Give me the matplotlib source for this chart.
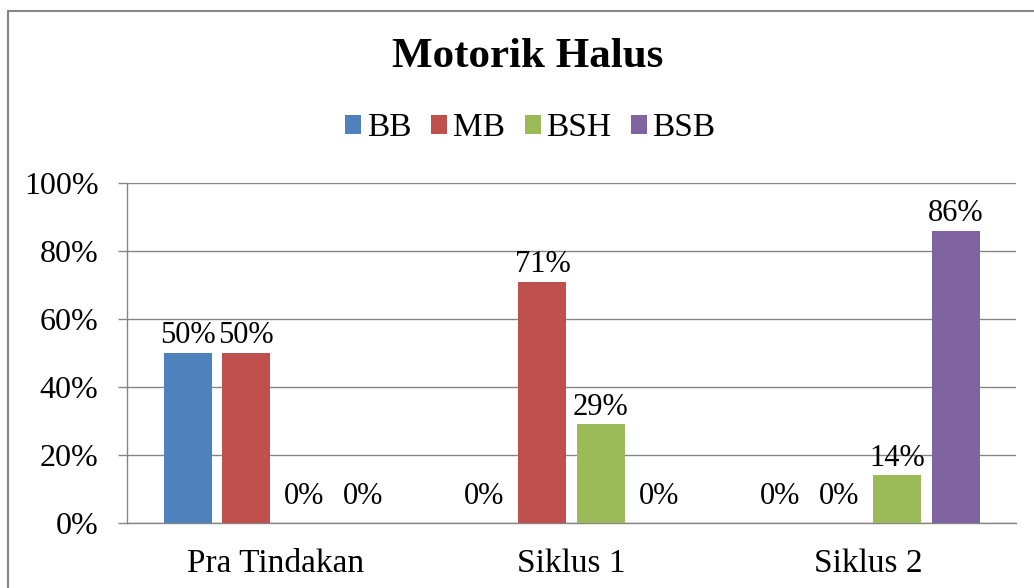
import numpy as np
import matplotlib
matplotlib.use('Agg')
import matplotlib.pyplot as plt
from matplotlib.patches import Patch, Rectangle

plt.rcParams['font.family'] = ['Liberation Serif', 'DejaVu Serif']

# Data
categories = ['Pra Tindakan', 'Siklus 1', 'Siklus 2']
series_names = ['BB', 'MB', 'BSH', 'BSB']
values = {
    'BB': [50, 0, 0],
    'MB': [50, 71, 0],
    'BSH': [0, 29, 14],
    'BSB': [0, 0, 86],
}
colors = ['#4F81BD', '#C0504D', '#9BBB59', '#8064A2']
yticks = [0, 20, 40, 60, 80, 100]

fig = plt.figure(figsize=(10.34, 5.88), dpi=100)
ax = fig.add_axes([0.1228, 0.1105, 0.86, 0.578])

# Chart border
fig.patches.append(Rectangle((8 / 1034, -0.1), 1.2, (588 - 11) / 588 + 0.1,
                             transform=fig.transFigure, fill=False,
                             edgecolor='#868686', linewidth=1.5))

x = np.arange(len(categories))
pitch = 0.197
width = 0.162
for i, name in enumerate(series_names):
    pos = x + (i - 1.5) * pitch
    bars = ax.bar(pos, values[name], width=width, color=colors[i], zorder=3)
    for b, v in zip(bars, values[name]):
        # zero labels sit a bit higher above the axis, like in Excel
        off = 9 if v == 0 else 2
        ax.annotate(f'{v}%', (b.get_x() + b.get_width() / 2, v),
                    xytext=(0, off), textcoords='offset points',
                    ha='center', va='bottom', fontsize=22)

ax.set_xlim(-0.5, 2.5)
ax.set_ylim(0, 100)
ax.set_yticks(yticks)
ax.set_yticklabels([f'{t}%' for t in yticks])
ax.set_xticks(x)
ax.set_xticklabels(categories)
ax.grid(axis='y', color='#868686', linewidth=1.0, zorder=0)
ax.tick_params(axis='y', length=6.5, width=1.0, color='#868686', pad=14, labelsize=23)
ax.tick_params(axis='x', length=0, pad=18, labelsize=24)
for s in ['top', 'right']:
    ax.spines[s].set_visible(False)
for s in ['left', 'bottom']:
    ax.spines[s].set_color('#868686')
    ax.spines[s].set_linewidth(1.0)

fig.text(0.51, 0.903, 'Motorik Halus', ha='center', va='center',
         fontsize=31, fontweight='bold')

handles = [Patch(facecolor=c, edgecolor='none') for c in colors]
fig.legend(handles, series_names, loc='center', bbox_to_anchor=(0.513, 0.782),
           ncol=4, frameon=False, fontsize=24, handlelength=0.48,
           handleheight=0.48, handletextpad=0.16, columnspacing=0.6)

plt.savefig('out.png', dpi=100)
